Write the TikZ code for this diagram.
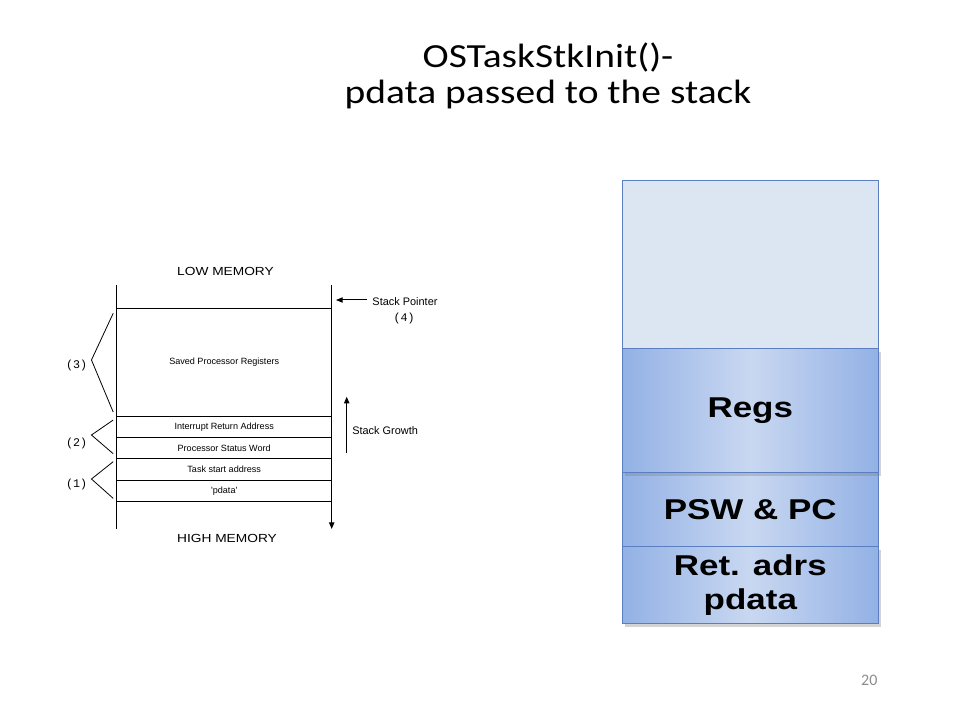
\documentclass[tikz,border=0pt]{standalone}
\usepackage{fontspec}
\setmainfont{Carlito}
\newfontfamily\titlefont[FakeStretch=1.17]{Carlito}
\newfontfamily\arialfont{Liberation Sans}
\newfontfamily\widearial[FakeStretch=1.17]{Liberation Sans}
\newfontfamily\bandfont[FakeStretch=1.22]{Liberation Sans}
\newfontfamily\courfont{Liberation Mono}
\usetikzlibrary{arrows.meta,positioning,shadows}
\definecolor{bandedge}{HTML}{93B1E5}
\definecolor{bandmid}{HTML}{C9D8F1}
\definecolor{freefill}{HTML}{DCE6F2}
\definecolor{bandline}{HTML}{5B7EC0}
\definecolor{pagegray}{HTML}{8C8C8C}

\begin{document}
\begin{tikzpicture}[x=0.75pt, y=-0.75pt,
  cell/.style={draw, line width=0.75pt, outer sep=0pt, inner sep=0pt, minimum width=161.25pt, minimum height=16pt, font=\arialfont\fontsize{6.8}{8}\selectfont},
  lbl/.style={font=\arialfont\fontsize{8.2}{10}\selectfont, inner sep=0pt},
  memlbl/.style={font=\widearial\fontsize{8.8}{10}\selectfont, inner sep=0pt},
  num/.style={font=\courfont\fontsize{8.75}{10}\selectfont, inner sep=0pt},
  ptr/.style={-{Triangle[length=5pt,width=4pt]}, line width=0.75pt},
  brk/.style={line width=0.6pt},
  band/.style={draw=bandline, line width=0.6pt, outer sep=0pt, minimum width=192pt, left color=bandedge, right color=bandedge, middle color=bandmid, align=center, font=\bandfont\bfseries\fontsize{21.5}{26}\selectfont, text=black},
  shade/.style={drop shadow={shadow xshift=2pt, shadow yshift=-2.5pt, opacity=0.35}}
]
\useasboundingbox (0,0) rectangle (960,720);

\node[align=center, font=\titlefont\fontsize{25.3}{27.5}\selectfont] (title) at (548,76) {OSTaskStkInit()-\\pdata passed to the stack};

\node[memlbl] (low) at (225.5,271) {LOW MEMORY};
\node[cell, minimum height=80.8pt, anchor=north] (regs) at (224.2,308.3) {Saved Processor Registers};
\node[cell, below=0pt of regs] (ira) {Interrupt Return Address};
\node[cell, below=0pt of ira] (psw) {Processor Status Word};
\node[cell, below=0pt of psw] (task) {Task start address};
\node[cell, below=0pt of task] (pd) {'pdata'};
\node[memlbl] (high) at (227,538.5) {HIGH MEMORY};

\coordinate (top) at (0,285);
\coordinate (bot) at (0,529);
\draw[line width=0.75pt] (regs.west |- top) -- (regs.west |- bot);
\draw[ptr] (regs.east |- top) -- (regs.east |- bot);

\node[lbl] (sp) at (405,301.7) {Stack Pointer};
\node[num] (n4) at (404,318) {(4)};
\coordinate (sptip) at (336,300);
\draw[ptr] ([xshift=-4pt]sp.west |- sptip) -- (sptip);

\node[lbl, anchor=west] (grow) at (352,431) {Stack Growth};
\coordinate (gbot) at (346.7,453.3);
\coordinate (gtop) at (346.7,396.7);
\draw[ptr] (gbot) -- (gtop);

\node[num] (n3) at (76.7,365) {(3)};
\node[num] (n2) at (76.7,443) {(2)};
\node[num] (n1) at (76.7,484) {(1)};
\draw[brk] ([shift={(-3.5,5)}]regs.north west) -- ([shift={(4,-5)}]n3.east) -- ([shift={(-3.5,-4)}]regs.south west);
\draw[brk] ([shift={(-3.5,4)}]ira.north west) -- ([shift={(4,-8)}]n2.east) -- ([shift={(-3.5,-5)}]psw.south west);
\draw[brk] ([shift={(-3.5,3)}]task.north west) -- ([shift={(4,-5)}]n1.east) -- ([shift={(-3.5,-3)}]pd.south west);

\node[band, shade, minimum height=57.5pt, anchor=south] (retb) at (750.3,623.3) {Ret. adrs\\pdata};
\node[band, minimum height=55.5pt, above=0pt of retb] (pswb) {PSW \& PC};
\node[band, shade, minimum height=93.3pt, above=0pt of pswb] (regsb) {Regs};
\node[draw=bandline, line width=0.6pt, fill=freefill, outer sep=0pt, minimum width=192pt, minimum height=125.7pt, above=0pt of regsb] (free) {};

\node[font=\fontsize{12}{14}\selectfont, text=pagegray] (page) at (869.3,680) {20};
\end{tikzpicture}
\end{document}
